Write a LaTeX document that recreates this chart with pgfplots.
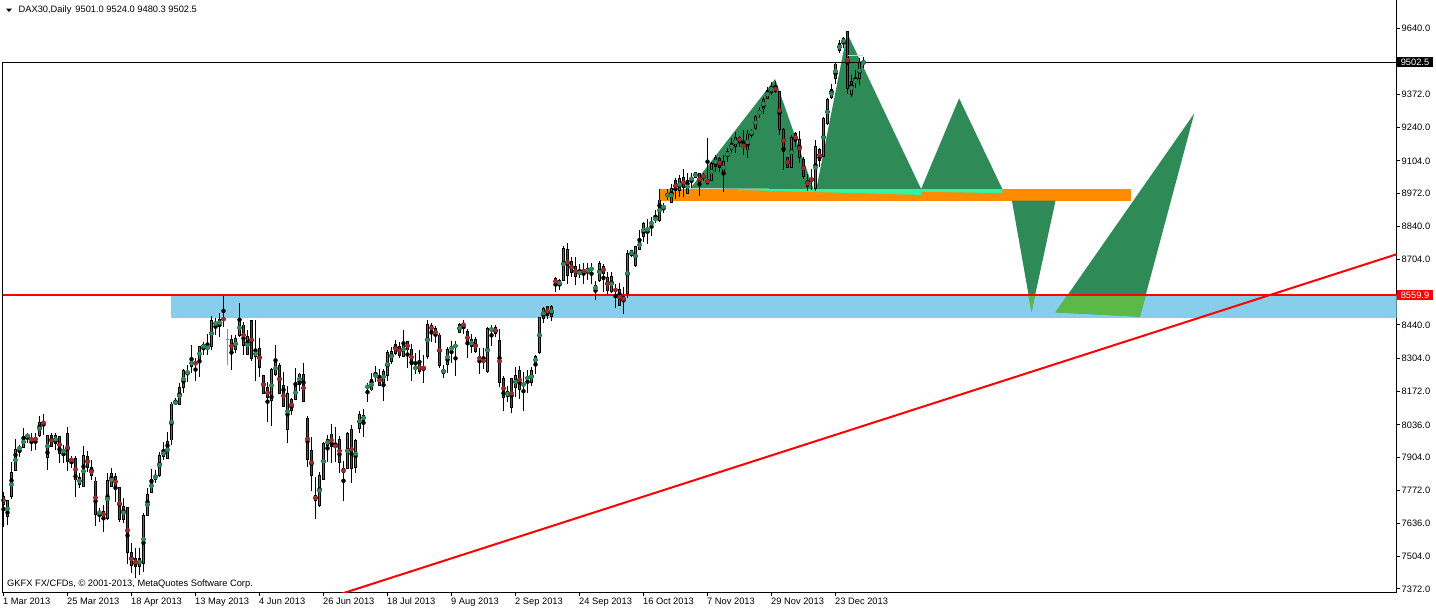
\documentclass[border=0pt]{standalone}
\usepackage{pgfplots}
\pgfplotsset{compat=1.18}
\usepackage{pgfplotstable}
\usepackage{fontspec}
\setmainfont{Liberation Sans}

\definecolor{bullfill}{HTML}{2E8B57}
\definecolor{bearfill}{HTML}{A52A2A}
\definecolor{zone}{HTML}{87CEEB}
\definecolor{band}{HTML}{FF8C00}
\definecolor{aqua}{HTML}{2EF5A0}
\definecolor{tri}{HTML}{2E8B57}
\definecolor{trilite}{HTML}{5CB947}
\definecolor{dojilime}{HTML}{22DD22}

% bullish candles (close >= open)
\pgfplotstableread{
i O H L C
1 7664.6 7732.0 7630.9 7729.3
2 7745.5 7887.1 7734.7 7843.9
3 7850.7 7977.4 7850.7 7937.0
4 7937.0 7954.5 7907.3 7945.0
5 7945.0 8021.9 7941.0 7988.2
6 7985.5 8004.4 7963.9 7997.6
9 7994.9 8071.8 7985.5 8046.2
11 7904.6 7994.9 7853.4 7994.9
13 7961.2 8004.4 7934.3 7994.9
15 7920.8 7954.5 7880.3 7938.3
19 7795.4 7839.9 7779.2 7823.7
20 7785.9 7951.8 7783.2 7911.3
24 7674.0 7698.3 7644.4 7687.5
26 7657.9 7839.9 7651.1 7812.9
27 7785.9 7860.1 7783.2 7839.9
30 7653.8 7738.8 7637.6 7707.7
34 7465.0 7536.5 7428.6 7496.1
35 7475.8 7678.1 7439.4 7671.3
36 7671.3 7779.2 7668.6 7754.9
37 7763.0 7857.4 7759.0 7816.0
38 7815.6 7853.4 7800.0 7833.1
39 7831.8 7927.5 7826.4 7914.0
40 7910.0 7965.3 7893.8 7930.2
41 7900.5 8008.4 7896.5 7970.7
42 7974.7 8129.8 7954.5 8120.3
43 8123.0 8143.2 8116.3 8128.4
44 8119.0 8203.9 8116.3 8187.8
45 8187.8 8260.6 8163.5 8255.2
46 8244.4 8278.1 8210.7 8251.1
47 8271.3 8359.0 8244.4 8301.0
49 8295.6 8354.9 8230.9 8352.2
50 8345.5 8372.5 8318.5 8361.7
51 8345.5 8403.5 8318.5 8350.9
52 8354.9 8476.3 8338.8 8456.1
53 8442.6 8466.8 8399.4 8449.3
54 8435.8 8487.1 8392.7 8462.8
58 8341.5 8399.4 8328.0 8385.9
59 8399.4 8530.2 8392.7 8458.8
61 8322.6 8419.7 8318.5 8395.4
63 8311.8 8458.8 8214.7 8334.7
67 8132.5 8264.6 8032.7 8257.9
68 8240.3 8359.0 8234.9 8288.9
71 8017.9 8193.1 7963.9 8163.5
73 8139.2 8264.6 8136.5 8193.1
74 8201.2 8247.1 8174.3 8241.7
79 7707.8 7846.6 7705.1 7833.1
80 7815.6 7965.3 7812.9 7961.2
81 7951.8 7994.9 7887.1 7978.8
86 7860.1 8005.7 7857.4 8001.7
88 7864.2 7977.4 7842.6 7974.7
89 8021.9 8093.4 8004.4 8079.9
90 8052.9 8100.1 7988.2 8075.8
91 8187.7 8206.6 8129.8 8193.1
92 8177.0 8244.4 8174.3 8220.1
93 8233.6 8274.0 8210.7 8237.6
95 8206.6 8260.6 8133.8 8253.8
96 8233.6 8338.8 8214.7 8328.0
97 8291.6 8352.2 8282.1 8334.7
100 8314.5 8419.7 8311.8 8368.4
103 8263.3 8328.0 8241.7 8268.6
106 8314.5 8460.1 8302.4 8443.9
110 8244.4 8278.1 8226.8 8261.9
111 8280.8 8352.2 8247.1 8338.8
112 8336.1 8376.5 8284.8 8354.9
113 8352.2 8376.5 8233.6 8358.9
114 8410.2 8446.6 8406.2 8443.9
117 8352.2 8403.5 8328.0 8381.9
121 8251.1 8433.1 8247.1 8423.7
122 8419.7 8439.9 8356.3 8423.7
126 8150.0 8193.1 8129.8 8172.9
128 8186.4 8271.3 8150.0 8233.6
130 8194.5 8251.1 8093.4 8203.9
131 8217.4 8257.9 8163.5 8233.6
132 8208.0 8271.3 8193.1 8254.2
133 8284.8 8318.5 8241.7 8311.8
134 8328.0 8473.6 8322.6 8470.9
135 8466.8 8514.0 8446.6 8507.3
137 8473.6 8520.8 8457.4 8516.7
139 8601.7 8626.0 8581.5 8617.9
140 8621.9 8759.4 8619.2 8750.0
144 8644.8 8686.6 8628.7 8658.3
146 8651.6 8689.3 8621.9 8669.1
147 8665.0 8689.3 8605.7 8669.1
148 8578.8 8617.9 8541.0 8601.7
149 8617.9 8698.8 8615.2 8689.3
152 8574.7 8655.6 8568.0 8638.1
156 8568.0 8743.3 8547.8 8729.8
157 8723.0 8743.3 8713.6 8740.6
158 8682.6 8760.8 8675.8 8756.8
159 8747.3 8824.2 8743.3 8781.0
160 8797.2 8855.2 8777.0 8851.1
161 8824.2 8867.3 8767.5 8828.2
162 8844.4 8875.4 8799.9 8857.9
163 8861.9 8905.1 8851.1 8874.1
164 8861.9 8988.6 8857.9 8945.5
165 8911.8 8932.0 8891.6 8922.6
166 8959.0 8988.7 8945.5 8972.5
167 8936.1 9010.2 8934.7 8992.7
169 8983.3 9046.6 8959.0 9033.2
171 8972.5 9053.4 8969.8 9026.4
172 9026.4 9053.4 8992.7 9037.2
173 9037.2 9060.1 9033.2 9057.4
177 9026.4 9100.6 9023.7 9093.8
178 9083.0 9127.5 9060.1 9118.1
180 9053.4 9127.5 8979.2 9100.6
181 9120.8 9154.5 9100.6 9141.0
182 9147.8 9195.0 9134.3 9174.7
183 9161.2 9221.9 9137.0 9199.0
186 9147.8 9228.7 9114.1 9212.5
187 9212.5 9231.4 9195.0 9224.6
188 9235.4 9289.3 9228.7 9282.6
189 9296.1 9323.1 9275.9 9302.8
190 9313.6 9363.5 9293.4 9354.0
191 9356.7 9401.2 9352.7 9390.5
192 9381.0 9424.2 9370.2 9406.6
197 9077.6 9208.4 9073.6 9199.0
203 8992.7 9188.2 8983.3 9161.2
205 9120.8 9282.6 9118.1 9275.9
206 9252.9 9356.7 9248.9 9350.0
207 9359.4 9414.7 9352.7 9393.1
208 9437.6 9501.0 9414.7 9495.6
209 9549.6 9592.7 9538.8 9579.2
210 9579.2 9606.2 9559.0 9599.4
212 9374.3 9451.1 9363.5 9424.2
213 9420.1 9471.4 9397.2 9433.6
214 9437.6 9518.5 9410.7 9501.0
215 9501.0 9524.0 9480.3 9502.5
}\bull

% bearish candles (close < open)
\pgfplotstableread{
i O H L C
0 7745.5 7765.7 7624.1 7715.8
7 7981.4 8001.7 7931.6 7972.0
8 7981.4 8001.7 7934.3 7977.4
10 8051.6 8079.9 7994.9 8038.1
12 7994.9 8004.4 7947.7 7950.4
14 7990.9 7990.9 7883.0 7920.8
16 8001.7 8028.6 7850.7 7887.1
17 7897.9 7910.0 7860.1 7891.1
18 7897.9 7910.0 7745.5 7812.9
21 7910.0 7931.6 7846.6 7864.1
22 7864.1 7893.8 7812.9 7830.4
23 7808.9 7826.4 7628.2 7674.0
25 7687.5 7711.8 7603.9 7660.6
28 7829.1 7839.9 7722.6 7783.2
29 7783.2 7783.2 7644.4 7653.8
31 7699.7 7705.0 7471.8 7519.0
32 7520.3 7556.7 7435.4 7467.7
33 7496.1 7536.5 7415.2 7465.0
48 8287.5 8305.0 8214.7 8282.1
55 8466.8 8561.2 8433.1 8460.1
57 8381.9 8399.4 8257.9 8328.0
60 8439.9 8453.4 8318.5 8359.0
62 8458.8 8458.8 8295.6 8302.4
64 8345.5 8385.9 8230.9 8268.6
65 8234.9 8237.6 8160.8 8163.5
66 8186.4 8210.7 8048.9 8145.9
69 8278.1 8284.8 8160.8 8163.5
70 8197.2 8248.4 8106.8 8109.5
72 8139.2 8143.2 8075.8 8096.1
75 8240.3 8284.8 8129.8 8129.8
76 8062.4 8071.8 7866.9 7896.5
77 7934.3 7988.2 7769.8 7833.1
78 7752.2 7826.4 7653.8 7729.3
82 7999.0 8039.4 7883.0 7947.7
83 7951.8 8025.9 7887.1 7947.7
84 7978.8 7992.2 7842.6 7883.0
85 7860.1 7890.0 7729.3 7842.6
87 8015.2 8035.4 7802.1 7860.1
94 8237.6 8260.6 8193.1 8194.5
98 8363.0 8379.2 8318.5 8325.3
99 8354.9 8372.5 8305.0 8318.5
101 8372.5 8376.5 8264.6 8338.8
102 8338.8 8363.0 8214.7 8280.8
104 8284.8 8338.8 8241.7 8251.1
105 8268.6 8318.5 8206.6 8264.6
107 8439.9 8446.6 8372.5 8417.0
108 8423.7 8435.8 8365.7 8396.7
109 8399.4 8406.2 8264.6 8275.4
115 8443.9 8460.1 8402.1 8438.5
116 8415.6 8423.7 8307.7 8361.7
118 8379.2 8390.0 8325.3 8332.0
119 8314.5 8345.5 8241.7 8295.6
120 8302.4 8348.2 8261.9 8287.5
123 8430.4 8439.9 8390.0 8406.2
124 8379.2 8423.7 8187.7 8206.6
125 8221.5 8233.6 8093.4 8146.0
127 8221.5 8221.5 8085.3 8105.5
129 8257.9 8274.0 8139.2 8179.7
136 8514.0 8516.7 8464.1 8477.6
138 8628.7 8632.7 8574.7 8604.4
141 8746.0 8772.9 8604.4 8642.1
142 8696.1 8713.6 8635.4 8651.6
143 8678.5 8713.6 8601.7 8635.4
145 8666.4 8689.3 8605.7 8651.6
150 8678.5 8686.6 8574.7 8648.9
151 8632.7 8652.9 8561.2 8581.5
153 8588.2 8605.7 8507.3 8574.7
154 8584.2 8611.1 8516.7 8520.8
155 8557.2 8594.9 8484.4 8534.3
168 9023.7 9033.2 8948.2 8983.3
170 9037.2 9070.9 8959.0 8995.4
174 9053.4 9056.1 8961.7 9006.2
175 9046.6 9056.1 9023.7 9037.2
176 9030.5 9195.0 9006.2 9012.9
179 9114.1 9120.8 9060.1 9077.6
184 9199.0 9204.4 9161.2 9181.5
185 9170.7 9228.7 9127.5 9158.5
193 9406.6 9428.2 9377.0 9383.7
194 9383.7 9387.8 9208.4 9231.4
195 9231.4 9235.4 9066.9 9141.0
196 9118.1 9120.8 9073.6 9077.6
198 9215.2 9221.9 9161.2 9181.5
199 9190.9 9224.6 9096.5 9118.1
200 9110.0 9120.8 9030.5 9039.9
201 9026.4 9050.7 8983.3 9002.1
202 9030.5 9069.6 8986.0 9026.4
204 9150.5 9154.5 9080.3 9104.6
211 9626.4 9629.1 9374.3 9397.2
}\bear

\newcommand{\lbl}{\fontsize{9.3bp}{11bp}\selectfont}

\begin{document}
\begin{tikzpicture}
\useasboundingbox (0bp,0bp) rectangle (1436bp,-610bp);
\begin{axis}[
  at={(2.5bp,-592.5bp)}, anchor=south west,
  scale only axis, width=1394bp, height=592.5bp,
  xmin=-0.25, xmax=348.25, ymin=7357.8, ymax=9754.5,
  axis x line*=bottom, axis y line*=right,
  axis line style={line width=1bp, black},
  tick align=outside, major tick length=3.5bp,
  tick style={black, line width=1bp},
  xtick={0,16,...,208},
  xticklabels={1 Mar 2013, 25 Mar 2013, 18 Apr 2013, 13 May 2013, 4 Jun 2013,
    26 Jun 2013, 18 Jul 2013, 9 Aug 2013, 2 Sep 2013, 24 Sep 2013,
    16 Oct 2013, 7 Nov 2013, 29 Nov 2013, 23 Dec 2013},
  xticklabel style={font=\lbl, anchor=north west, inner sep=0pt, xshift=-0.5bp, yshift=-2bp},
  ytick={7372,7504,7636,7772,7904,8036,8172,8304,8440,8572,8704,8840,8972,9104,9240,9372,9508,9640},
  yticklabels={7372.0,7504.0,7636.0,7772.0,7904.0,8036.0,8172.0,8304.0,8440.0,,8704.0,8840.0,8972.0,9104.0,9240.0,9372.0,,9640.0},
  yticklabel style={font=\lbl, anchor=west, inner sep=0pt, xshift=1.5bp},
]
% support zone and resistance band
\addplot[fill=zone, draw=none] coordinates {(41.9,8469.4) (348.25,8469.4) (348.25,8559.9) (41.9,8559.9)};
\addplot[fill=band, draw=none] coordinates {(163.9,8942.7) (281.9,8942.7) (281.9,8990) (163.9,8990)};
\addplot[fill=aqua, draw=none] coordinates {(183.4,8990) (229.4,8990) (229.4,8966) (183.4,8986)};
\addplot[fill=aqua, draw=none] coordinates {(229.4,8990) (249.7,8990) (249.7,8973) (229.4,8979)};
% projected pattern
\addplot[fill=tri, draw=none] coordinates {(171.7,8992.8) (192.9,9435) (202.5,8990)};
\addplot[fill=tri, draw=none] coordinates {(203.2,8990) (210.9,9621) (229.4,8990)};
\addplot[fill=tri, draw=none] coordinates {(229.4,8990) (238.9,9356.9) (249.7,8990)};
\addplot[fill=tri, draw=none] coordinates {(252.1,8942.7) (263.0,8942.7) (257.0,8493.7)};
\addplot[fill=tri, draw=none] coordinates {(263.0,8491.2) (297.7,9296.2) (284.1,8473.5)};
\addplot[fill=trilite, draw=none] coordinates {(256.2,8559.9) (257.9,8559.9) (257.0,8493.7)};
\addplot[fill=trilite, draw=none] coordinates {(266.0,8559.9) (285.5,8559.9) (284.1,8473.5) (263.0,8491.2)};
% lines
\addplot[red, line width=2bp] coordinates {(-0.25,8559.9) (348.25,8559.9)};
\addplot[red, line width=2bp] coordinates {(80,7329.4) (348.25,8725.9)};
\addplot[black, line width=1bp] coordinates {(-0.25,9502.5) (348.25,9502.5)};
% candles: wicks
\addplot[black, only marks, mark=none, error bars/.cd, y dir=both, y explicit, error mark=none,
  error bar style={line width=1bp}]
  table[x=i, y expr={(\thisrow{H}+\thisrow{L})/2}, y error expr={(\thisrow{H}-\thisrow{L})/2}] {\bull};
\addplot[black, only marks, mark=none, error bars/.cd, y dir=both, y explicit, error mark=none,
  error bar style={line width=1bp}]
  table[x=i, y expr={(\thisrow{H}+\thisrow{L})/2}, y error expr={(\thisrow{H}-\thisrow{L})/2}] {\bear};
% candles: body outlines
\addplot[black, only marks, mark=none, error bars/.cd, y dir=both, y explicit, error mark=none,
  error bar style={line width=3bp}]
  table[x=i, y expr={(\thisrow{O}+\thisrow{C})/2}, y error expr={abs(\thisrow{C}-\thisrow{O})/2+2.02}] {\bull};
\addplot[black, only marks, mark=none, error bars/.cd, y dir=both, y explicit, error mark=none,
  error bar style={line width=3bp}]
  table[x=i, y expr={(\thisrow{O}+\thisrow{C})/2}, y error expr={abs(\thisrow{C}-\thisrow{O})/2+2.02}] {\bear};
% candles: body fills
\addplot[bullfill, only marks, mark=none, error bars/.cd, y dir=both, y explicit, error mark=none,
  error bar style={line width=1.2bp}]
  table[x=i, y expr={(\thisrow{O}+\thisrow{C})/2}, y error expr={abs(\thisrow{C}-\thisrow{O})/2-2}] {\bull};
\addplot[bearfill, only marks, mark=none, error bars/.cd, y dir=both, y explicit, error mark=none,
  error bar style={line width=1.2bp}]
  table[x=i, y expr={(\thisrow{O}+\thisrow{C})/2}, y error expr={abs(\thisrow{O}-\thisrow{C})/2-2}] {\bear};
% doji drawn in lime
\addplot[dojilime, line width=1bp] coordinates {(56,8278.1) (56,8422.4)};
\addplot[dojilime, line width=1bp] coordinates {(55.6,8381.9) (56.4,8381.9)};
% small marker line
\addplot[green!45!white, line width=1bp] coordinates {(211.2,9532) (213,9532)};
\addplot[zone!70!white, line width=1bp] coordinates {(213,9532) (214.9,9532)};
\coordinate (cur) at (axis cs:348.25,9502.5);
\coordinate (res) at (axis cs:348.25,8559.9);
\coordinate (lt) at (axis cs:-0.25,9502.5);
\coordinate (lb) at (axis cs:-0.25,7357.8);
\end{axis}
\draw[black, line width=1bp] (lt) -- (lb);
\node[fill=black, text=white, font=\lbl, anchor=west, inner xsep=3bp, inner ysep=1.5bp, minimum width=35.6bp, minimum height=10bp, text depth=0pt] at ([xshift=0.5bp]cur) {9502.5};
\node[fill=red, text=white, font=\lbl, anchor=west, inner xsep=3bp, inner ysep=1.5bp, minimum width=35.6bp, minimum height=10bp, text depth=0pt] at ([xshift=0.5bp]res) {8559.9};
\fill[black] (6bp,-8.5bp) -- (12bp,-8.5bp) -- (9bp,-12bp) -- cycle;
\node[font=\lbl, anchor=west, inner sep=0pt] at (18.5bp,-10.5bp) {DAX30,Daily\hspace{4bp}9501.0 9524.0 9480.3 9502.5};
\node[font=\lbl, anchor=west, inner sep=0pt] at (7bp,-584.5bp) {GKFX FX/CFDs, \textcopyright{} 2001-2013, MetaQuotes Software Corp.};
\end{tikzpicture}
\end{document}
